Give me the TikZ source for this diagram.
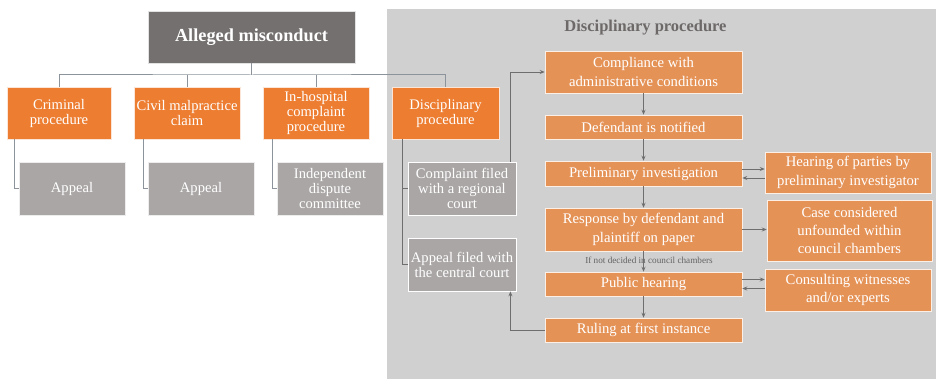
\documentclass[tikz,border=0pt]{standalone}
\usepackage{fontspec}
\setmainfont{Liberation Serif}
\usetikzlibrary{arrows.meta}
\definecolor{orA}{HTML}{ED7D31}
\definecolor{orB}{HTML}{E59257}
\definecolor{dk}{HTML}{757070}
\definecolor{gb}{HTML}{AAA6A6}
\definecolor{panel}{HTML}{D0D0D0}
\definecolor{ttl}{HTML}{6E6969}
\definecolor{arc}{HTML}{6E6E6E}
\definecolor{trc}{HTML}{8C939B}
\tikzset{
  base/.style={inner sep=0pt, align=center, text=white, font=\fontsize{14.6}{15}\selectfont},
  obox/.style={base, fill=orA, draw=white!80!orA, line width=0.6pt},
  rbox/.style={base, fill=orB, draw=white!85!orB, line width=0.5pt, font=\fontsize{14.7}{18.3}\selectfont},
  gbox/.style={base, fill=gb, draw=white!80!gb, line width=0.6pt},
  pbox/.style={base, fill=gb, draw=white, line width=0.8pt},
  dbox/.style={base, fill=dk, draw=white!80!dk, line width=0.6pt, font=\fontsize{18.3}{20}\selectfont\bfseries},
  tree/.style={draw=trc, line width=1pt},
  arr/.style={draw=arc, line width=0.9pt, -{Stealth[length=5pt,width=4pt]}},
  ln/.style={draw=arc, line width=0.9pt}
}
\begin{document}
\begin{tikzpicture}[x=1pt,y=-1pt]
\useasboundingbox (0,0) rectangle (936,379);
\fill[panel] (387,9) rectangle (936,379);
\node[text=ttl, font=\fontsize{16.5}{18}\selectfont\bfseries] (title) at (645.5,28) {Disciplinary procedure};
% left tree
\node[dbox, minimum width=207pt, minimum height=52pt] (alleged) at (251.5,37) {Alleged misconduct};
\node[obox, minimum width=104pt, minimum height=52pt] (crim) at (59,113) {Criminal\\procedure};
\node[obox, minimum width=106pt, minimum height=52pt] (civil) at (187,113) {Civil malpractice\\claim};
\node[obox, minimum width=106pt, minimum height=52pt] (hosp) at (316,113) {In-hospital\\complaint\\procedure};
\node[obox, minimum width=107pt, minimum height=52pt] (disc) at (445.5,113) {Disciplinary\\procedure};
\node[gbox, minimum width=106pt, minimum height=53pt] (app1) at (72,188.5) {Appeal};
\node[gbox, minimum width=106pt, minimum height=53pt] (app2) at (201,188.5) {Appeal};
\node[gbox, minimum width=106pt, minimum height=53pt] (idc) at (330,188.5) {Independent\\dispute\\committee};
\node[pbox, minimum width=108pt, minimum height=53pt] (cmp) at (462,188.5) {Complaint filed\\with a regional\\court};
\node[pbox, minimum width=108pt, minimum height=53pt] (apf) at (462,264.5) {Appeal filed with\\the central court};
% right column
\node[rbox, minimum width=197pt, minimum height=42pt] (compl) at (643.5,72) {Compliance with\\administrative conditions};
\node[rbox, minimum width=197pt, minimum height=24pt] (notif) at (643.5,127) {Defendant is notified};
\node[rbox, minimum width=197pt, minimum height=25pt] (prelim) at (643.5,173.5) {Preliminary investigation};
\node[rbox, minimum width=197pt, minimum height=43pt] (resp) at (643.5,229.5) {Response by defendant and\\plaintiff on paper};
\node[rbox, minimum width=197pt, minimum height=24pt] (pub) at (643.5,284) {Public hearing};
\node[rbox, minimum width=197pt, minimum height=24pt] (rul) at (643.5,330) {Ruling at first instance};
\node[rbox, minimum width=166pt, minimum height=41pt] (hear) at (848,172.5) {Hearing of parties by\\preliminary investigator};
\node[rbox, minimum width=165pt, minimum height=61pt] (case) at (849.5,230.5) {Case considered\\unfounded within\\council chambers};
\node[rbox, minimum width=166pt, minimum height=42pt] (cons) at (848,290) {Consulting witnesses\\and/or experts};
\node[text=arc!90!black, font=\fontsize{9.2}{10}\selectfont] (nd) at (649,260) {If not decided in council chambers};
% tree connectors
\coordinate (bus) at (251.5,75);
\draw[tree] (alleged.south) -- (bus);
\draw[tree] (crim.north) |- (bus) -| (disc.north);
\draw[tree] (civil.north) -- (civil.north |- bus);
\draw[tree] (hosp.north) -- (hosp.north |- bus);
\draw[tree] ([xshift=8pt]crim.south west) |- (app1.west);
\draw[tree] ([xshift=10pt]civil.south west) |- (app2.west);
\draw[tree] ([xshift=10pt]hosp.south west) |- (idc.west);
\coordinate (trunk) at ([xshift=11pt]disc.south west);
\draw[ln] (trunk) |- (apf.west);
\draw[ln] (cmp.west -| trunk) -- (cmp.west);
% arrows
\draw[arr] ([xshift=-6pt]cmp.north east) |- (compl.west);
\draw[arr] (compl) -- (notif);
\draw[arr] (notif) -- (prelim);
\draw[arr] (prelim) -- (resp);
\draw[arr] (resp) -- (pub);
\draw[arr] (pub) -- (rul);
\draw[arr] (rul.west) -| ([xshift=-6pt]apf.south east);
\draw[arr] ([yshift=4.5pt]prelim.east) -- ([yshift=4.5pt]prelim.east -| hear.west);
\draw[arr] ([yshift=-4.5pt]prelim.east -| hear.west) -- ([yshift=-4.5pt]prelim.east);
\draw[arr] (resp.east) -- (resp.east -| case.west);
\draw[arr] ([yshift=4.5pt]pub.east) -- ([yshift=4.5pt]pub.east -| cons.west);
\draw[arr] ([yshift=-4.5pt]pub.east -| cons.west) -- ([yshift=-4.5pt]pub.east);
\end{tikzpicture}
\end{document}
